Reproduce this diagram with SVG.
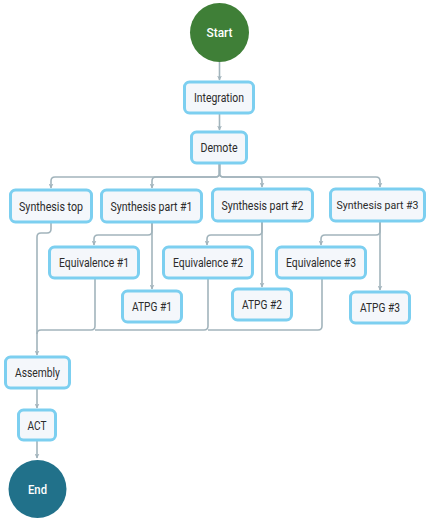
<svg xmlns="http://www.w3.org/2000/svg" width="428" height="519" viewBox="0 0 428 519">
<defs>
<style>
.box{fill:#f4f7fb;stroke:#7ccff0;stroke-width:3}
.t{font-family:Roboto,"Liberation Sans",sans-serif;font-size:12.5px;fill:#2b2b2b;text-anchor:middle;dominant-baseline:central}
.s{font-size:11.5px}
.ct{font-family:Roboto,"Liberation Sans",sans-serif;font-size:12.5px;font-weight:500;fill:#ffffff;text-anchor:middle;dominant-baseline:central}
.c{fill:none;stroke:#a2b4bc;stroke-width:1.6;marker-end:url(#ah)}
.cn{fill:none;stroke:#a2b4bc;stroke-width:1.6}
</style>
<marker id="ah" viewBox="0 0 10 10" refX="9" refY="5" markerWidth="5" markerHeight="5" orient="auto" markerUnits="userSpaceOnUse">
<path d="M0,0 L10,5 L0,10 L3,5 Z" fill="#a2b4bc"/>
</marker>
</defs>
<rect width="428" height="519" fill="#ffffff"/>
<g id="connectors">
<path class="c" d="M219.5,62 V80"/>
<path class="c" d="M219.5,114 V130"/>
<path class="c" d="M219.5,164 V173 Q219.5,177 215.5,177 H55 Q51,177 51,181 V188"/>
<path class="c" d="M219.5,164 V173 Q219.5,177 215.5,177 H156 Q152,177 152,181 V188"/>
<path class="c" d="M219.5,164 V173 Q219.5,177 223.5,177 H258 Q262,177 262,181 V187"/>
<path class="c" d="M219.5,164 V173 Q219.5,177 223.5,177 H376 Q380,177 380,181 V187"/>
<path class="c" d="M152,222 V231 Q152,235 148,235 H98 Q94,235 94,239 V245"/>
<path class="c" d="M152,222 V289"/>
<path class="c" d="M262,221 V231 Q262,235 258,235 H211 Q207,235 207,239 V245"/>
<path class="c" d="M262,221 V287"/>
<path class="c" d="M380,221 V231 Q380,235 376,235 H325 Q321,235 321,239 V245"/>
<path class="c" d="M380,221 V290"/>
<path class="c" d="M51,222 V229 Q51,233 47,233 H41 Q37,233 37,237 V355"/>
<path class="cn" d="M95,278 V326 Q95,330 91,330 H41 Q37,330 37,334"/>
<path class="cn" d="M208,278 V326 Q208,330 204,330 H95"/>
<path class="cn" d="M322,278 V326 Q322,330 318,330 H208"/>
<path class="c" d="M37,388 V408"/>
<path class="c" d="M37,440 V458"/>
</g>
<g id="start"><circle cx="219.5" cy="32.5" r="29.5" fill="#3f7f37"/><text class="ct" x="219.5" y="32.5" textLength="26" lengthAdjust="spacingAndGlyphs">Start</text></g>
<g id="integration"><rect class="box" x="184.5" y="82" width="69" height="31" rx="5"/><text class="t" x="219" y="97.5" textLength="50" lengthAdjust="spacingAndGlyphs">Integration</text></g>
<g id="demote"><rect class="box" x="191.5" y="132" width="55" height="31" rx="5"/><text class="t" x="219" y="147.5" textLength="37" lengthAdjust="spacingAndGlyphs">Demote</text></g>
<g id="synth-top"><rect class="box" x="10.5" y="190" width="81" height="32" rx="5"/><text class="t" x="51" y="206" textLength="64" lengthAdjust="spacingAndGlyphs">Synthesis top</text></g>
<g id="synth-1"><rect class="box" x="101.5" y="190" width="100" height="32" rx="5"/><text class="t" x="151.5" y="206" textLength="82" lengthAdjust="spacingAndGlyphs">Synthesis part #1</text></g>
<g id="synth-2"><rect class="box" x="212.5" y="189" width="100" height="32" rx="5"/><text class="t" x="262.5" y="205" textLength="82" lengthAdjust="spacingAndGlyphs">Synthesis part #2</text></g>
<g id="synth-3"><rect class="box" x="330.5" y="189" width="94" height="32" rx="5"/><text class="t s" x="377.5" y="205" textLength="82" lengthAdjust="spacingAndGlyphs">Synthesis part #3</text></g>
<g id="equiv-1"><rect class="box" x="49.5" y="247" width="89" height="31" rx="5"/><text class="t" x="94" y="262.5" textLength="70" lengthAdjust="spacingAndGlyphs">Equivalence #1</text></g>
<g id="equiv-2"><rect class="box" x="163.5" y="247" width="89" height="31" rx="5"/><text class="t" x="208" y="262.5" textLength="70" lengthAdjust="spacingAndGlyphs">Equivalence #2</text></g>
<g id="equiv-3"><rect class="box" x="276.5" y="247" width="89" height="31" rx="5"/><text class="t" x="321" y="262.5" textLength="70" lengthAdjust="spacingAndGlyphs">Equivalence #3</text></g>
<g id="atpg-1"><rect class="box" x="122.5" y="291" width="59" height="31" rx="5"/><text class="t" x="152" y="306.5" textLength="40" lengthAdjust="spacingAndGlyphs">ATPG #1</text></g>
<g id="atpg-2"><rect class="box" x="232.5" y="289" width="59" height="31" rx="5"/><text class="t" x="262" y="304.5" textLength="40" lengthAdjust="spacingAndGlyphs">ATPG #2</text></g>
<g id="atpg-3"><rect class="box" x="350.5" y="292" width="59" height="31" rx="5"/><text class="t" x="380" y="307.5" textLength="40" lengthAdjust="spacingAndGlyphs">ATPG #3</text></g>
<g id="assembly"><rect class="box" x="5.5" y="357" width="64" height="31" rx="5"/><text class="t" x="37.5" y="372.5" textLength="45" lengthAdjust="spacingAndGlyphs">Assembly</text></g>
<g id="act"><rect class="box" x="18.5" y="410" width="37" height="30" rx="5"/><text class="t" x="37" y="425" textLength="19" lengthAdjust="spacingAndGlyphs">ACT</text></g>
<g id="end"><circle cx="37.5" cy="489" r="29" fill="#21718a"/><text class="ct" x="37.5" y="489" textLength="19" lengthAdjust="spacingAndGlyphs">End</text></g>
</svg>
